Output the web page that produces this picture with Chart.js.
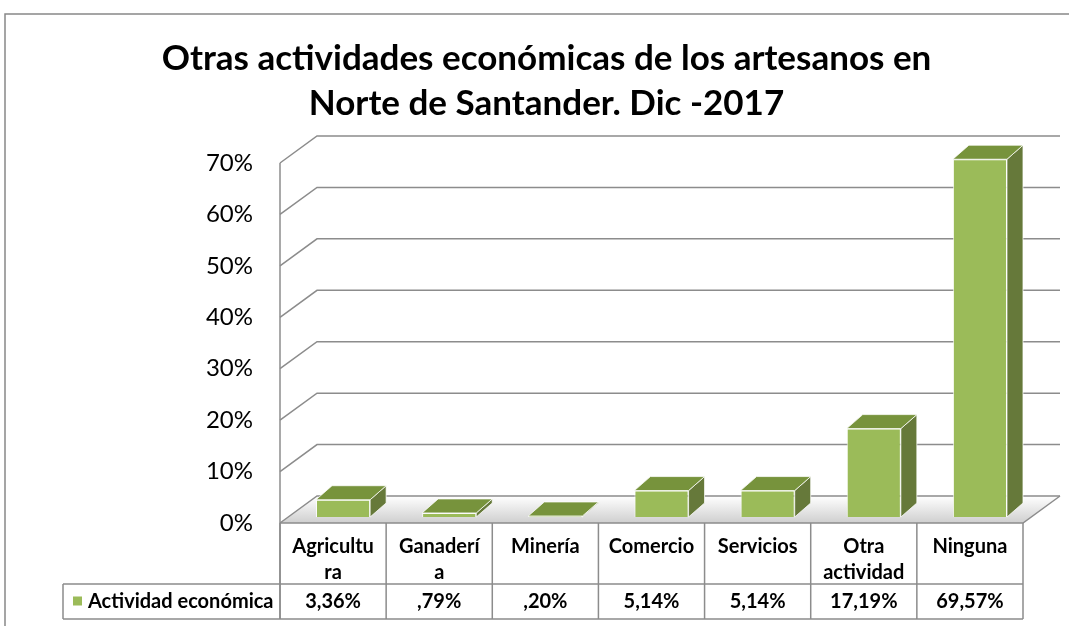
<!DOCTYPE html>
<html>
<head>
<meta charset="utf-8">
<title>Otras actividades económicas</title>
<script src="https://cdn.jsdelivr.net/npm/chart.js@4.4.1/dist/chart.umd.min.js"></script>
<style>
  html, body { margin: 0; padding: 0; background: #fff; }
  canvas { display: block; }
</style>
</head>
<body>
<canvas id="chart" width="1069" height="626"></canvas>
<script>
// Data
const categories = [["Agricultu", "ra"], ["Ganaderí", "a"], ["Minería"], ["Comercio"], ["Servicios"], ["Otra", "actividad"], ["Ninguna"]];
const seriesLabel = "Actividad económica";
const seriesValues = [3.36, 0.79, 0.20, 5.14, 5.14, 17.19, 69.57];
const titleLines = ["Otras actividades económicas de los artesanos en", "Norte de Santander. Dic -2017"];

// Colours
const FRONT = "#9BBB59";
const SIDE = "#66793A";
const TOP = "#77933C";
const GRID = "#8c8c8c";

// 3D offsets (wall depth, bar position inside the depth, bar depth)
const WALL_DX = 37, WALL_DY = -27;
const BAR_OX = 10, BAR_OY = -6;
const BAR_DX = 16, BAR_DY = -14;

const TABLE_FONT = "bold 20px Lato, 'Open Sans', sans-serif";

// format like the source table: 3,36% / ,79%
const fmtValue = (v) => {
  let s = v.toFixed(2).replace(".", ",");
  if (s.startsWith("0")) s = s.slice(1);
  return s + "%";
};

Chart.defaults.font.family = "Lato, 'Open Sans', sans-serif";
Chart.defaults.color = "#000";

const chart3d = {
  id: "chart3d",
  beforeDraw(chart) {
    const ctx = chart.ctx;
    ctx.save();
    ctx.fillStyle = "#fff";
    ctx.fillRect(0, 0, chart.width, chart.height);
    // outer chart frame
    ctx.strokeStyle = "#888";
    ctx.lineWidth = 1.5;
    ctx.beginPath();
    ctx.moveTo(5, chart.height);
    ctx.lineTo(5, 14);
    ctx.lineTo(chart.width, 14);
    ctx.stroke();
    ctx.restore();
  },
  beforeDatasetsDraw(chart) {
    const ctx = chart.ctx;
    const area = chart.chartArea;
    const y = chart.scales.y;
    const y0 = y.getPixelForValue(0);

    ctx.save();
    // floor
    const grad = ctx.createLinearGradient(0, y0 + WALL_DY, 0, y0);
    grad.addColorStop(0, "#ffffff");
    grad.addColorStop(1, "#cfcfcf");
    ctx.fillStyle = grad;
    ctx.beginPath();
    ctx.moveTo(area.left, y0);
    ctx.lineTo(area.right, y0);
    ctx.lineTo(area.right + WALL_DX, y0 + WALL_DY);
    ctx.lineTo(area.left + WALL_DX, y0 + WALL_DY);
    ctx.closePath();
    ctx.fill();

    ctx.strokeStyle = GRID;
    ctx.lineWidth = 1.5;
    // floor front and right edges
    ctx.beginPath();
    ctx.moveTo(area.left, y0);
    ctx.lineTo(area.right, y0);
    ctx.lineTo(area.right + WALL_DX, y0 + WALL_DY);
    ctx.stroke();

    // gridlines on side wall + back wall
    y.ticks.forEach((t) => {
      const py = y.getPixelForValue(t.value);
      ctx.beginPath();
      ctx.moveTo(area.left, py);
      ctx.lineTo(area.left + WALL_DX, py + WALL_DY);
      ctx.lineTo(area.right + WALL_DX, py + WALL_DY);
      ctx.stroke();
    });

    // vertical axis edge, continues into the table
    ctx.beginPath();
    ctx.moveTo(area.left, y.getPixelForValue(y.max));
    ctx.lineTo(area.left, 619);
    ctx.stroke();
    ctx.restore();

    // shift bar fronts into the depth
    ctx.save();
    ctx.translate(BAR_OX, BAR_OY);
  },
  afterDatasetsDraw(chart) {
    const ctx = chart.ctx;
    ctx.restore();
    ctx.save();
    ctx.lineWidth = 1;
    ctx.strokeStyle = "rgba(255,255,255,0.75)";
    chart.getDatasetMeta(0).data.forEach((bar) => {
      const p = bar.getProps(["x", "y", "base", "width"], true);
      const L = p.x - p.width / 2 + BAR_OX;
      const R = p.x + p.width / 2 + BAR_OX;
      const T = p.y + BAR_OY;
      const B = p.base + BAR_OY;
      // side face
      ctx.fillStyle = SIDE;
      ctx.beginPath();
      ctx.moveTo(R, T);
      ctx.lineTo(R + BAR_DX, T + BAR_DY);
      ctx.lineTo(R + BAR_DX, B + BAR_DY);
      ctx.lineTo(R, B);
      ctx.closePath();
      ctx.fill();
      ctx.stroke();
      // top face
      ctx.fillStyle = TOP;
      ctx.beginPath();
      ctx.moveTo(L, T);
      ctx.lineTo(R, T);
      ctx.lineTo(R + BAR_DX, T + BAR_DY);
      ctx.lineTo(L + BAR_DX, T + BAR_DY);
      ctx.closePath();
      ctx.fill();
      ctx.stroke();
    });
    ctx.restore();
  },
  afterDraw(chart) {
    // data table under the axis
    const ctx = chart.ctx;
    const area = chart.chartArea;
    const x = chart.scales.x;
    const y0 = chart.scales.y.getPixelForValue(0);
    const rowTop = 584, rowBottom = 619, legendLeft = 63;
    const colW = (area.right - area.left) / categories.length;

    ctx.save();
    ctx.strokeStyle = GRID;
    ctx.lineWidth = 1.5;
    ctx.beginPath();
    for (let i = 0; i <= categories.length; i++) {
      const bx = area.left + i * colW;
      ctx.moveTo(bx, y0);
      ctx.lineTo(bx, rowBottom);
    }
    ctx.moveTo(legendLeft, rowTop);
    ctx.lineTo(area.right, rowTop);
    ctx.moveTo(legendLeft, rowBottom);
    ctx.lineTo(area.right, rowBottom);
    ctx.moveTo(legendLeft, rowTop);
    ctx.lineTo(legendLeft, rowBottom);
    ctx.stroke();

    const midY = (rowTop + rowBottom) / 2;
    ctx.font = TABLE_FONT;
    ctx.fillStyle = "#000";
    ctx.textBaseline = "middle";
    ctx.textAlign = "center";
    seriesValues.forEach((v, i) => {
      ctx.fillText(fmtValue(v), x.getPixelForValue(i), midY);
    });

    // legend key
    ctx.fillStyle = FRONT;
    ctx.fillRect(73, midY - 5, 9, 9);
    ctx.fillStyle = "#000";
    ctx.textAlign = "left";
    ctx.fillText(chart.data.datasets[0].label, 88, midY);
    ctx.restore();
  }
};

new Chart(document.getElementById("chart"), {
  type: "bar",
  data: {
    labels: categories,
    datasets: [{
      label: seriesLabel,
      data: seriesValues,
      backgroundColor: FRONT,
      borderColor: "rgba(255,255,255,0.8)",
      borderWidth: 1,
      categoryPercentage: 1,
      barPercentage: 0.51
    }]
  },
  options: {
    responsive: false,
    animation: false,
    devicePixelRatio: 1,
    layout: { padding: { left: 70, right: 46, top: 0, bottom: 0 } },
    plugins: {
      legend: { display: false },
      tooltip: { enabled: false },
      title: {
        display: true,
        text: titleLines,
        color: "#000",
        font: { size: 35, weight: "bold", lineHeight: 45 / 35 },
        padding: { top: 36, bottom: 37 }
      }
    },
    scales: {
      x: {
        grid: { display: false, drawTicks: false },
        border: { display: false },
        ticks: {
          color: "#000",
          padding: 11,
          maxRotation: 0,
          autoSkip: false,
          font: { size: 20, weight: "bold", lineHeight: 1.3 }
        },
        afterFit(scale) { scale.height = 103; }
      },
      y: {
        min: 0,
        max: 70,
        grid: { display: false, drawTicks: false },
        border: { display: false },
        ticks: {
          stepSize: 10,
          padding: 27,
          color: "#000",
          font: { size: 24 },
          callback: (v) => v + "%"
        },
        afterFit(scale) { scale.width = 210; }
      }
    }
  },
  plugins: [chart3d]
});
</script>
</body>
</html>
